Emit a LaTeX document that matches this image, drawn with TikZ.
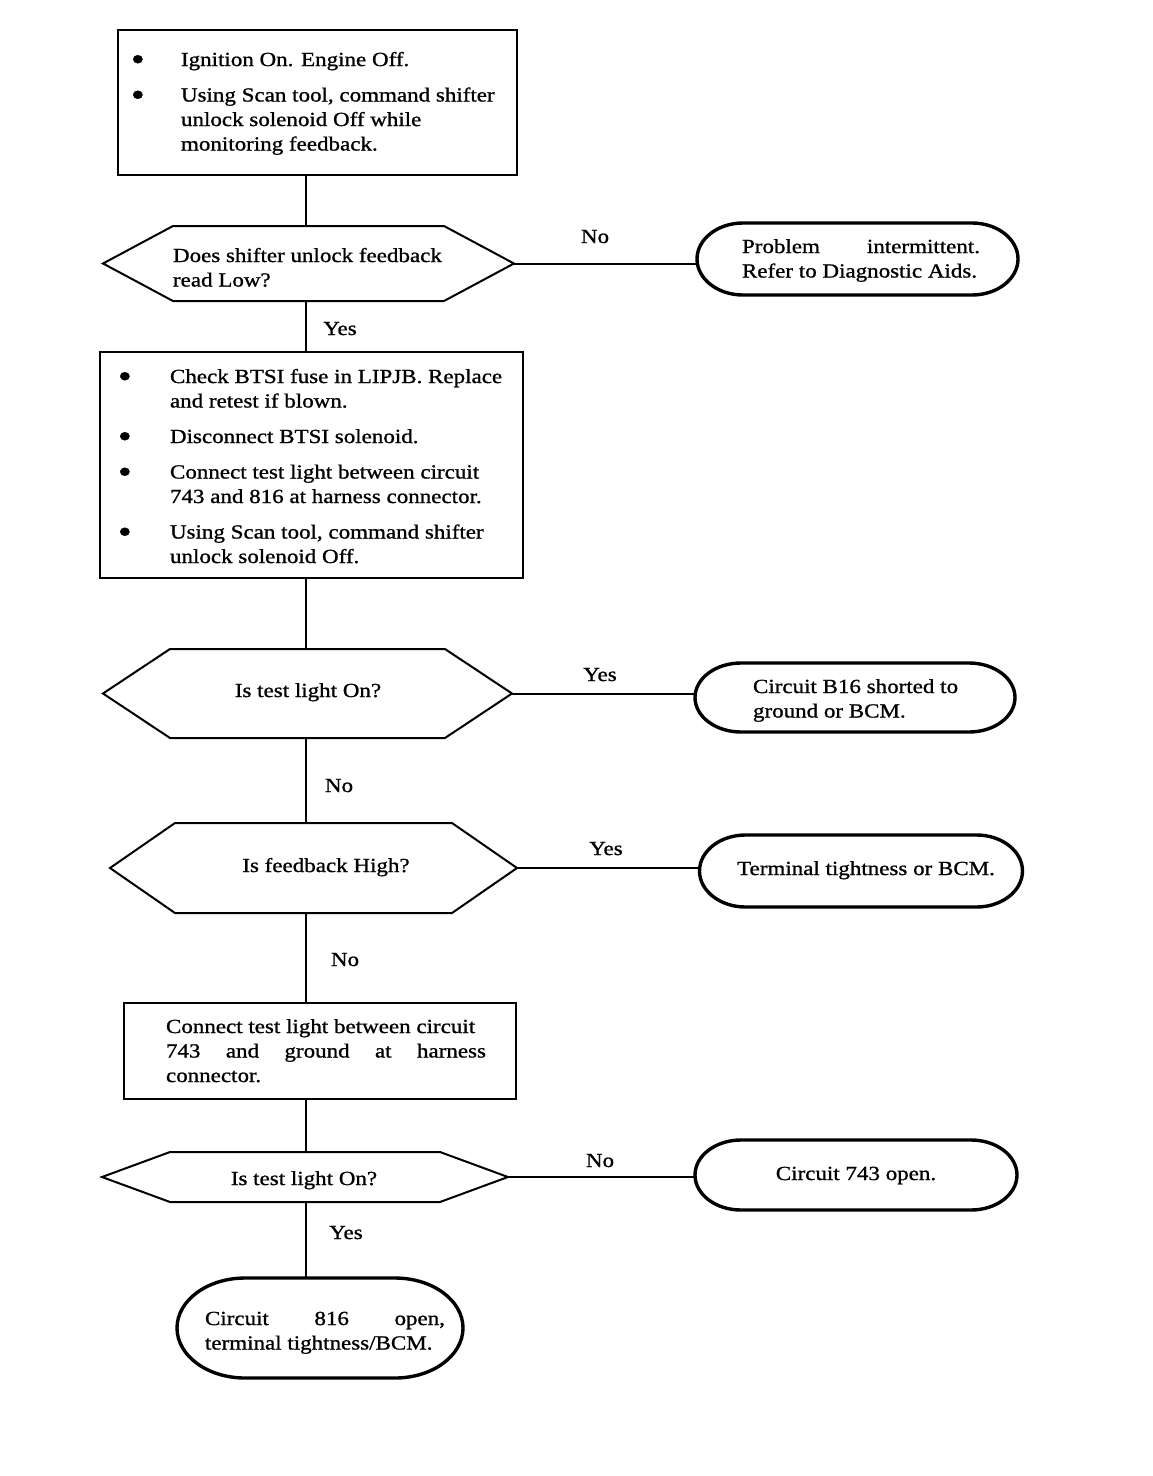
\documentclass[tikz,border=0pt]{standalone}
\usepackage{fontspec}
\setmainfont{Liberation Serif}[FakeStretch=1.15,FakeBold=1]
\usetikzlibrary{calc}
\newcommand\bul{\raisebox{-4.5pt}{\scalebox{1.7}{\textbullet}}}
\newcommand\bc[1]{\makebox[#1pt][l]{\bul}}
\newcommand\ind[1]{\hspace*{#1pt}}
\newcommand\st{\rule{0pt}{16pt}}
\newcommand\hexdraw[2]{\draw[hexline] (#1.west) -- ([xshift=#2pt]#1.north west) -- ([xshift=-#2pt]#1.north east) -- (#1.east) -- ([xshift=-#2pt]#1.south east) -- ([xshift=#2pt]#1.south west) -- cycle;}
\newcommand\termdraw[3]{\draw[termline] ([xshift=#2pt]#1.north west) -- ([xshift=-#2pt]#1.north east) arc[start angle=90,end angle=-90,x radius=#2pt,y radius=#3pt] -- ([xshift=#2pt]#1.south west) arc[start angle=270,end angle=90,x radius=#2pt,y radius=#3pt] -- cycle;}
\begin{document}
\begin{tikzpicture}[x=1pt,y=-1pt,
 every node/.style={inner sep=0pt, outer sep=0pt, font=\fontsize{20}{24.5}\selectfont},
 stepbox/.style={draw, line width=2.8pt, anchor=north west},
 holder/.style={draw=none},
 hexline/.style={line width=2pt, line join=miter},
 termline/.style={line width=3.4pt},
 conn/.style={line width=2pt},
 txt/.style={anchor=north west, align=left},
 ctxt/.style={anchor=base},
 lbl/.style={anchor=base},
]
\useasboundingbox[fill=white] (0,0) rectangle (1152,1476);
\coordinate (spine) at (306,0);

% box 1
\node[stepbox, minimum width=399pt, minimum height=145pt] (b1) at (118,30) {};
\node[txt] (b1t) at (131,50) {\st\bc{50}Ignition On. Engine Off.\\[11pt]
\bc{50}Using Scan tool, command shifter\\
\ind{50}unlock solenoid Off while\\
\ind{50}monitoring feedback.};

% decision 1
\node[holder, minimum width=411pt, minimum height=75pt] (d1) at (308.5,263.5) {};
\hexdraw{d1}{70}
\node[txt] (d1t) at (173,246) {\st Does shifter unlock feedback\\read Low?};

% terminal 1
\node[holder, minimum width=321pt, minimum height=72pt] (t1) at (857.5,259) {};
\termdraw{t1}{46}{36}
\node[txt] (t1t) at (742,237) {\st\hbox to 238pt{Problem\hfill intermittent.}\\Refer to Diagnostic Aids.};

% box 2
\node[stepbox, minimum width=423pt, minimum height=226pt] (b2) at (100,352) {};
\node[txt] (b2t) at (118,367) {\st\bc{52}Check BTSI fuse in LIPJB. Replace\\
\ind{52}and retest if blown.\\[11pt]
\bc{52}Disconnect BTSI solenoid.\\[11pt]
\bc{52}Connect test light between circuit\\
\ind{52}743 and 816 at harness connector.\\[11pt]
\bc{52}Using Scan tool, command shifter\\
\ind{52}unlock solenoid Off.};

% decision 2
\node[holder, minimum width=409pt, minimum height=89pt] (d2) at (307.5,693.5) {};
\hexdraw{d2}{67}
\node[ctxt] (d2t) at (308,697) {Is test light On?};

% terminal 2
\node[holder, minimum width=320pt, minimum height=69pt] (t2) at (855,697.5) {};
\termdraw{t2}{46}{34.5}
\node[txt] (t2t) at (753,677) {\st Circuit B16 shorted to\\ground or BCM.};

% decision 3
\node[holder, minimum width=407pt, minimum height=90pt] (d3) at (313.5,868) {};
\hexdraw{d3}{65}
\node[ctxt] (d3t) at (326,872) {Is feedback High?};

% terminal 3
\node[holder, minimum width=323pt, minimum height=72pt] (t3) at (861,871) {};
\termdraw{t3}{46}{36}
\node[ctxt] (t3t) at (866,875) {Terminal tightness or BCM.};

% box 3
\node[stepbox, minimum width=392pt, minimum height=96pt] (b3) at (124,1003) {};
\node[txt] (b3t) at (166,1017) {\st Connect test light between circuit\\
\hbox to 320pt{743\hfill and\hfill ground\hfill at\hfill harness}\\
connector.};

% decision 4
\node[holder, minimum width=406pt, minimum height=50pt] (d4) at (305,1177) {};
\hexdraw{d4}{68}
\node[ctxt] (d4t) at (304,1185) {Is test light On?};

% terminal 4
\node[holder, minimum width=322pt, minimum height=70pt] (t4) at (856,1175) {};
\termdraw{t4}{46}{35}
\node[ctxt] (t4t) at (856,1180) {Circuit 743 open.};

% terminal 5
\node[holder, minimum width=286pt, minimum height=100pt] (t5) at (320,1328) {};
\termdraw{t5}{68}{50}
\node[txt] (t5t) at (205,1309) {\st\hbox to 240pt{Circuit\hfill 816\hfill open,}\\terminal tightness/BCM.};

% connectors
\draw[conn] (spine |- b1.south) -- (spine |- d1.north);
\draw[conn] (spine |- d1.south) -- (spine |- b2.north);
\draw[conn] (spine |- b2.south) -- (spine |- d2.north);
\draw[conn] (spine |- d2.south) -- (spine |- d3.north);
\draw[conn] (spine |- d3.south) -- (spine |- b3.north);
\draw[conn] (spine |- b3.south) -- (spine |- d4.north);
\draw[conn] (spine |- d4.south) -- (spine |- t5.north);
\draw[conn] (d1.east) -- (d1.east -| t1.west);
\draw[conn] (d2.east) -- (d2.east -| t2.west);
\draw[conn] (d3.east) -- (d3.east -| t3.west);
\draw[conn] (d4.east) -- (d4.east -| t4.west);

% labels
\node[lbl] (l1) at (595,243) {No};
\node[lbl] (l2) at (340,335) {Yes};
\node[lbl] (l3) at (600,681) {Yes};
\node[lbl] (l4) at (339,792) {No};
\node[lbl] (l5) at (606,855) {Yes};
\node[lbl] (l6) at (345,966) {No};
\node[lbl] (l7) at (600,1167) {No};
\node[lbl] (l8) at (346,1239) {Yes};
\end{tikzpicture}
\end{document}
